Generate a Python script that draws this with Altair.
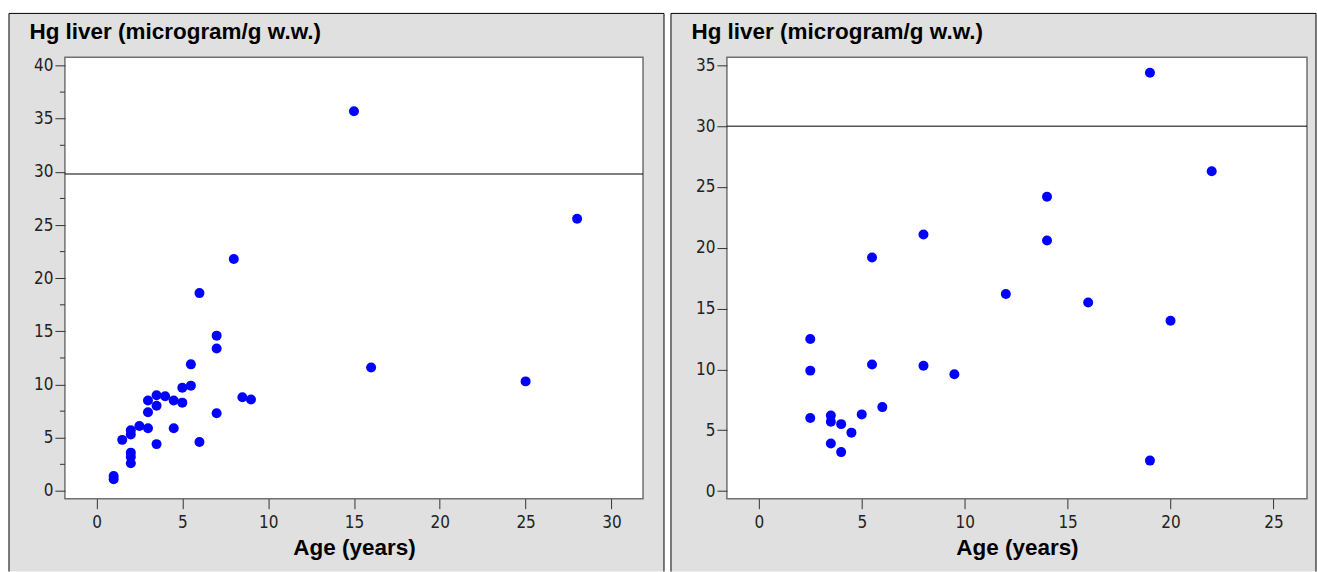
import altair as alt
import pandas as pd

# ---- data ----
ages_left = [1, 1, 1.5, 2, 2, 2, 2, 2, 2.5, 3, 3, 3, 3.5, 3.5, 3.5, 4, 4.5, 4.5,
             5, 5, 5.5, 5.5, 6, 6, 7, 7, 7, 8, 8.5, 9, 15, 16, 25, 28]
hg_left = [1.4, 1.1, 4.8, 5.7, 5.3, 3.6, 3.2, 2.6, 6.1, 8.5, 7.4, 5.9, 9.0, 8.0, 4.4, 8.9, 8.5, 5.9,
           9.7, 8.3, 11.9, 9.9, 18.6, 4.6, 14.6, 13.4, 7.3, 21.8, 8.8, 8.6, 35.7, 11.6, 10.3, 25.6]

ages_right = [2.5, 2.5, 2.5, 3.5, 3.5, 3.5, 4, 4, 4.5, 5, 5.5, 5.5, 6, 8, 8, 9.5,
              12, 14, 14, 16, 19, 19, 20, 22]
hg_right = [12.5, 9.9, 6.0, 6.2, 5.7, 3.9, 5.5, 3.2, 4.8, 6.3, 10.4, 19.2, 6.9, 10.3, 21.1, 9.6,
            16.2, 24.2, 20.6, 15.5, 34.4, 2.5, 14.0, 26.3]

threshold_left = 29.8
threshold_right = 30.0

xticks_left = [0, 5, 10, 15, 20, 25, 30]
yticks_left = [0, 5, 10, 15, 20, 25, 30, 35, 40]
yminor_left = [2.5, 7.5, 12.5, 17.5, 22.5, 27.5, 32.5, 37.5]
xticks_right = [0, 5, 10, 15, 20, 25]
yticks_right = [0, 5, 10, 15, 20, 25, 30, 35]

y_title = "Hg liver (microgram/g w.w.)"
x_title = "Age (years)"

FONT = "DejaVu Sans Condensed, Liberation Sans Narrow, Liberation Sans, Arial, sans-serif"
TFONT = "Liberation Sans, Arial, sans-serif"
PANEL_BG = "#E0E0E0"
FRAME = "#707070"


def panel(ages, hg, threshold, xdom, ydom, xticks, yticks, yminor, W, H, right_ext):
    df = pd.DataFrame({"age": ages, "hg": hg})
    one = pd.DataFrame({"k": [0]})

    xaxis = alt.Axis(values=xticks, format="d", tickSize=10, tickColor="#333333",
                     tickWidth=1, domain=False, grid=False, labelFont=FONT,
                     labelFontSize=17, labelColor="#222222", labelPadding=6,
                     title=x_title, titleFont=TFONT, titleFontSize=22.5,
                     titleFontWeight="bold", titleColor="#000000", titlePadding=6,
                     zindex=1)
    yaxis = alt.Axis(values=yticks, format="d", tickSize=10, tickColor="#333333",
                     tickWidth=1, domain=False, grid=False, labelFont=FONT,
                     labelFontSize=17, labelColor="#222222", labelPadding=2,
                     title=y_title, titleFont=TFONT, titleFontSize=22.5,
                     titleFontWeight="bold", titleColor="#000000", titleAngle=0,
                     titleAlign="left", titleBaseline="alphabetic",
                     titleX=-36, titleY=-19, zindex=1)

    xs = alt.Scale(domain=xdom, nice=False, zero=False)
    ys = alt.Scale(domain=ydom, nice=False, zero=False)

    x0, x1 = -56, W + right_ext
    y0, y1 = -44, H + 73

    bg = alt.Chart(one).mark_rect(fill=PANEL_BG, clip=False).encode(
        x=alt.value(x0), x2=alt.value(x1), y=alt.value(y0), y2=alt.value(y1))
    border_left = alt.Chart(one).mark_rule(color="#000000", strokeWidth=1, clip=False).encode(
        x=alt.value(x0), y=alt.value(y0), y2=alt.value(y1))
    border_right = alt.Chart(one).mark_rule(color="#000000", strokeWidth=1, clip=False).encode(
        x=alt.value(x1), y=alt.value(y0), y2=alt.value(y1))
    border_top = alt.Chart(one).mark_rule(color="#000000", strokeWidth=1, clip=False).encode(
        x=alt.value(x0), x2=alt.value(x1), y=alt.value(y0))
    plotbg = alt.Chart(one).mark_rect(fill="#FFFFFF", stroke=FRAME, strokeWidth=1.5,
                                      clip=False).encode(
        x=alt.value(0), x2=alt.value(W), y=alt.value(0), y2=alt.value(H))
    rule = alt.Chart(pd.DataFrame({"t": [threshold]})).mark_rule(
        color="#000000", strokeWidth=1).encode(y=alt.Y("t:Q", scale=ys))
    pts = alt.Chart(df).mark_circle(color="#0000FF", opacity=1, size=100).encode(
        x=alt.X("age:Q", scale=xs, axis=xaxis),
        y=alt.Y("hg:Q", scale=ys, axis=yaxis))

    layers = [bg, border_left, border_right, border_top, plotbg]
    if yminor:
        minor = alt.Chart(pd.DataFrame({"m": yminor})).mark_rule(
            color="#333333", strokeWidth=1, clip=False).encode(
            y=alt.Y("m:Q", scale=ys), x=alt.value(-5), x2=alt.value(0))
        layers.append(minor)
    layers += [rule, pts]
    return alt.layer(*layers).properties(width=W, height=H)


left = panel(ages_left, hg_left, threshold_left, [-1.84, 31.84], [-0.73, 40.77],
             xticks_left, yticks_left, yminor_left, 579, 442, 21)
right = panel(ages_right, hg_right, threshold_right, [-1.55, 26.63], [-0.63, 35.66],
              xticks_right, yticks_right, None, 581, 442, 9)

chart = alt.hconcat(left, right, spacing=5).properties(
    padding={"left": 8, "top": 12, "right": 0, "bottom": 0},
    background="#FFFFFF",
).configure_view(stroke=None)

chart.save("out.html", embed_options={"renderer": "svg", "actions": False})
